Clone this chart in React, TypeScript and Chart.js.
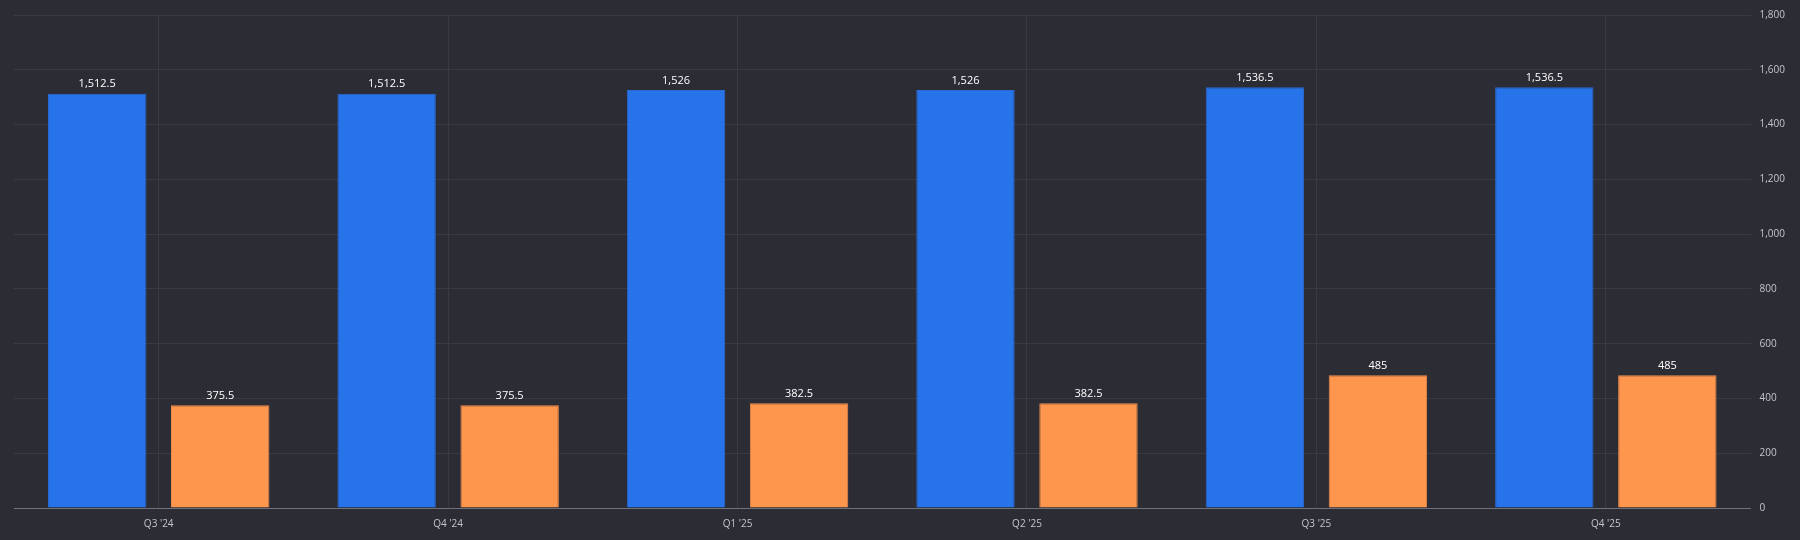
import React, { useEffect, useRef } from 'react';
import { Chart, registerables, type Plugin } from 'chart.js';

Chart.register(...registerables);

// 분기 라벨
const quarters = ["Q3 '24", "Q4 '24", "Q1 '25", "Q2 '25", "Q3 '25", "Q4 '25"];
// 파란 막대
const blueValues = [1512.5, 1512.5, 1526, 1526, 1536.5, 1536.5];
// 주황 막대
const orangeValues = [375.5, 375.5, 382.5, 382.5, 485, 485];
// y축 범위
const yMin = 0;
const yMax = 1800;
const yStep = 200;

const FONT = "'Open Sans', 'DejaVu Sans', sans-serif";

// 막대 위 값 표시
const valueLabels: Plugin<'bar'> = {
  id: 'valueLabels',
  afterDatasetsDraw(chart) {
    const ctx = chart.ctx;
    ctx.save();
    ctx.font = `11px ${FONT}`;
    ctx.fillStyle = '#FFFFFF';
    ctx.textAlign = 'center';
    ctx.textBaseline = 'bottom';
    chart.data.datasets.forEach((ds, i) => {
      const meta = chart.getDatasetMeta(i);
      meta.data.forEach((bar, j) => {
        const v = ds.data[j] as number;
        ctx.fillText(v.toLocaleString('en-US'), bar.x, bar.y - 4);
      });
    });
    ctx.restore();
  },
};

const App: React.FC = () => {
  const canvasRef = useRef<HTMLCanvasElement>(null);

  useEffect(() => {
    document.body.style.margin = '0';
    document.body.style.background = '#2C2C35';
    if (!canvasRef.current) return;

    const chart = new Chart(canvasRef.current, {
      type: 'bar',
      data: {
        labels: quarters,
        datasets: [
          {
            data: blueValues,
            backgroundColor: '#2673EA',
            borderColor: '#2A68D2',
            borderWidth: 1,
            categoryPercentage: 0.85,
            barPercentage: 0.8,
          },
          {
            data: orangeValues,
            backgroundColor: '#FF964D',
            borderColor: '#EE8C4B',
            borderWidth: 1,
            categoryPercentage: 0.85,
            barPercentage: 0.8,
          },
        ],
      },
      options: {
        responsive: false,
        animation: false,
        layout: { padding: { top: 12, left: 14, right: 6, bottom: 0 } },
        plugins: {
          legend: { display: false },
          tooltip: { enabled: false },
        },
        scales: {
          x: {
            offset: true,
            grid: {
              offset: false,
              color: '#3A3A44',
              drawTicks: false,
            },
            border: { color: '#70707A', width: 1 },
            ticks: {
              color: '#C4C4CC',
              font: { family: FONT, size: 10 },
              padding: 10,
            },
          },
          y: {
            position: 'right',
            min: yMin,
            max: yMax,
            grid: { color: '#3A3A44', drawTicks: false },
            border: { display: false },
            ticks: {
              stepSize: yStep,
              color: '#C4C4CC',
              font: { family: FONT, size: 10 },
              padding: 9,
              callback: (v) => Number(v).toLocaleString('en-US'),
            },
          },
        },
      },
      plugins: [valueLabels],
    });

    return () => chart.destroy();
  }, []);

  return (
    <div style={{ width: 1800, height: 540, background: '#2C2C35' }}>
      <canvas ref={canvasRef} width={1800} height={540} style={{ display: 'block' }} />
    </div>
  );
};

export default App;
